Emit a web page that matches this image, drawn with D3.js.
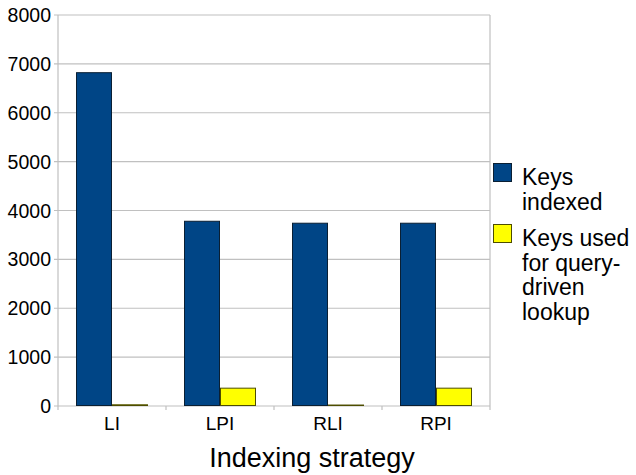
<!DOCTYPE html>
<html><head><meta charset="utf-8">
<script src="https://cdn.jsdelivr.net/npm/d3@7"></script>
<style>body{margin:0;background:#fff}svg{display:block;font-family:"Liberation Sans",Arial,sans-serif}</style>
</head><body>
<svg id="c" width="636" height="475"></svg>
<script>
const categories = ["LI", "LPI", "RLI", "RPI"];
const keysIndexed = [6830, 3790, 3750, 3750];
const keysQuery = [35, 375, 30, 375];
const seriesNames = [["Keys", "indexed"], ["Keys used", "for query-", "driven", "lookup"]];
const yTicks = [0, 1000, 2000, 3000, 4000, 5000, 6000, 7000, 8000];
const colors = ["#004586", "#ffff00"];
const strokes = ["#0a1f33", "#4d4d00"];

const svg = d3.select("#c");
const L = 58, R = 490, T = 15, B = 406;
const x = d3.scaleBand().domain(categories).range([L, R]);
const y = d3.scaleLinear().domain([0, 8000]).range([B, T]);
const barW = 36;

// gridlines
svg.append("g").selectAll("line").data(yTicks).join("line")
  .attr("x1", L - 4).attr("x2", R).attr("y1", d => y(d)).attr("y2", d => y(d))
  .attr("stroke", "#c0c0c0").attr("stroke-width", 1.2);
// axes lines
svg.append("line").attr("x1", L).attr("x2", L).attr("y1", T).attr("y2", B).attr("stroke", "#c0c0c0").attr("stroke-width", 1.2);
svg.append("line").attr("x1", R).attr("x2", R).attr("y1", T).attr("y2", B).attr("stroke", "#c0c0c0").attr("stroke-width", 1.2);
// x ticks at band boundaries
const bounds = categories.map(c => x(c)).concat([R]);
svg.append("g").selectAll("line").data(bounds).join("line")
  .attr("x1", d => d).attr("x2", d => d).attr("y1", B).attr("y2", B + 4)
  .attr("stroke", "#c0c0c0").attr("stroke-width", 1.2);

// y tick labels
svg.append("g").selectAll("text").data(yTicks).join("text")
  .attr("x", 51).attr("y", d => y(d)).attr("dy", "0.36em")
  .attr("text-anchor", "end").attr("font-size", 19.5).attr("fill", "#000")
  .text(d => d);

// bars
const series = [keysIndexed, keysQuery];
series.forEach((vals, si) => {
  svg.append("g").selectAll("rect").data(categories).join("rect")
    .attr("x", c => x(c) + x.bandwidth() / 2 - barW + si * barW + 0.5)
    .attr("width", barW - 1)
    .attr("y", (c, i) => y(vals[i]) + 0.5)
    .attr("height", (c, i) => Math.max(0, B - y(vals[i]) - 1))
    .attr("fill", colors[si]).attr("stroke", strokes[si]).attr("stroke-width", 1);
});

// category labels
svg.append("g").selectAll("text").data(categories).join("text")
  .attr("x", c => x(c) + x.bandwidth() / 2).attr("y", 430)
  .attr("text-anchor", "middle").attr("font-size", 19).text(c => c);

// axis title
svg.append("text").attr("x", 312).attr("y", 467).attr("text-anchor", "middle")
  .attr("font-size", 27).text("Indexing strategy");

// legend
const legY = [163, 224];
seriesNames.forEach((lines, si) => {
  svg.append("rect").attr("x", 493.5).attr("y", legY[si] + 0.5).attr("width", 18).attr("height", 18)
    .attr("fill", colors[si]).attr("stroke", strokes[si]);
  const t = svg.append("text").attr("font-size", 23).attr("fill", "#000");
  lines.forEach((ln, li) => {
    t.append("tspan").attr("x", 522).attr("y", legY[si] + 22 + li * 24.7).text(ln);
  });
});
</script>
</body></html>
